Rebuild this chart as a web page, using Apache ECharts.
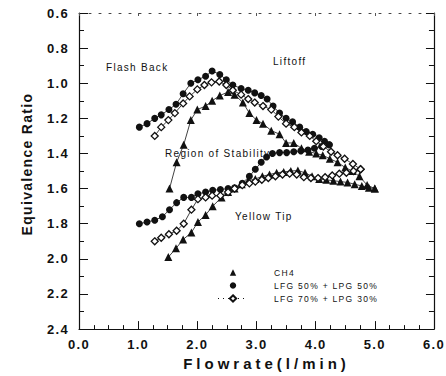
<!DOCTYPE html>
<html>
<head>
<meta charset="utf-8">
<script src="https://cdn.jsdelivr.net/npm/echarts@6/dist/echarts.min.js"></script>
<style>
html,body{margin:0;padding:0;background:#fff;}
#chart{width:446px;height:376px;}
#chart text{letter-spacing:1.3px;}
</style>
</head>
<body>
<div id="chart"></div>
<script>
// ---- data (Flowrate l/min, Equivalence Ratio) ----
const xTicks = [0, 1, 2, 3, 4, 5, 6];
const yTicks = [0.6, 0.8, 1.0, 1.2, 1.4, 1.6, 1.8, 2.0, 2.2, 2.4];
const seriesNames = ['CH4', 'LFG 50% + LPG 50%', 'LFG 70% + LPG 30%'];

const ch4Upper = [[1.53,1.60],[1.65,1.45],[1.77,1.35],[1.89,1.21],[2.00,1.15],[2.14,1.13],[2.25,1.10],[2.38,1.07],[2.52,1.05],[2.63,1.065],[2.77,1.11],[2.88,1.17],[3.00,1.21],[3.11,1.23],[3.25,1.27],[3.39,1.29],[3.50,1.34],[3.63,1.34],[3.76,1.37],[3.89,1.39],[4.01,1.40],[4.12,1.41],[4.24,1.43],[4.37,1.45],[4.50,1.48],[4.62,1.50],[4.74,1.53],[4.87,1.58],[5.00,1.60]];
const ch4Lower = [[1.51,1.99],[1.64,1.94],[1.76,1.89],[1.90,1.85],[2.01,1.79],[2.14,1.75],[2.26,1.70],[2.41,1.65],[2.52,1.62],[2.63,1.60],[2.75,1.575],[2.86,1.555],[2.98,1.545],[3.10,1.53],[3.22,1.52],[3.34,1.51],[3.46,1.505],[3.58,1.50],[3.70,1.497],[3.82,1.51],[3.94,1.53],[4.06,1.545],[4.18,1.55],[4.30,1.555],[4.42,1.56],[4.54,1.565],[4.66,1.575],[4.78,1.585],[4.90,1.595],[5.00,1.60]];

const lfg50Upper = [[1.02,1.25],[1.15,1.23],[1.28,1.20],[1.39,1.18],[1.52,1.15],[1.64,1.12],[1.76,1.06],[1.89,1.00],[2.01,0.98],[2.14,0.96],[2.25,0.93],[2.38,0.95],[2.49,0.98],[2.60,1.01],[2.74,1.03],[2.86,1.04],[2.97,1.055],[3.08,1.07],[3.18,1.09],[3.28,1.13],[3.39,1.17],[3.50,1.20],[3.61,1.22],[3.73,1.25],[3.84,1.275],[3.95,1.29],[4.06,1.31],[4.15,1.33],[4.23,1.35]];
const lfg50Lower = [[1.02,1.80],[1.15,1.79],[1.28,1.78],[1.41,1.76],[1.53,1.72],[1.65,1.68],[1.77,1.65],[1.90,1.65],[2.01,1.63],[2.14,1.62],[2.26,1.61],[2.39,1.605],[2.52,1.60],[2.63,1.595],[2.76,1.57],[2.88,1.53],[2.98,1.49],[3.08,1.45],[3.17,1.42],[3.27,1.40],[3.39,1.395],[3.51,1.395],[3.63,1.39],[3.75,1.385],[3.87,1.38],[3.98,1.37],[4.10,1.36],[4.23,1.35]];

const lfg70Upper = [[1.28,1.30],[1.39,1.25],[1.51,1.21],[1.62,1.17],[1.76,1.115],[1.87,1.075],[2.00,1.035],[2.12,1.01],[2.24,0.995],[2.37,0.99],[2.49,1.01],[2.60,1.04],[2.74,1.065],[2.86,1.09],[2.97,1.11],[3.11,1.13],[3.25,1.15],[3.37,1.19],[3.50,1.23],[3.64,1.25],[3.76,1.28],[3.90,1.30],[4.01,1.33],[4.13,1.36],[4.26,1.39],[4.37,1.41],[4.49,1.43],[4.63,1.46],[4.76,1.49]];
const lfg70Lower = [[1.28,1.90],[1.39,1.88],[1.52,1.86],[1.65,1.84],[1.77,1.80],[1.90,1.72],[2.01,1.66],[2.14,1.65],[2.25,1.64],[2.39,1.64],[2.52,1.62],[2.63,1.60],[2.76,1.58],[2.88,1.57],[2.98,1.56],[3.09,1.55],[3.20,1.54],[3.32,1.53],[3.44,1.52],[3.56,1.515],[3.68,1.52],[3.80,1.535],[3.92,1.54],[4.04,1.54],[4.16,1.535],[4.28,1.525],[4.40,1.515],[4.52,1.51],[4.64,1.50],[4.76,1.49]];

const annotations = [
  {text:'Flash Back', left:106, top:62},
  {text:'Liftoff', left:273, top:56},
  {text:'Region of Stability', left:165, top:148},
  {text:'Yellow Tip', left:235, top:211}
];

const INK = '#111';
const FONT = '"Liberation Sans", Arial, Helvetica, sans-serif';

function mkSeries(name, data, symbol, hollow) {
  return {
    type:'line', name:name, data:data, symbol:symbol, symbolSize: symbol==='triangle'?8:7,
    xAxisIndex:0, yAxisIndex:0,
    lineStyle:{color:INK, width:0.8},
    itemStyle: hollow ? {color:'#fff', borderColor:INK, borderWidth:1.3} : {color:INK, borderColor:INK, borderWidth:0},
    emphasis:{disabled:true}, silent:true
  };
}

const chart = echarts.init(document.getElementById('chart'), null, {renderer:'svg'});
chart.setOption({
  animation:false,
  backgroundColor:'#fff',
  grid:{left:79, right:12, top:13, bottom:44},
  xAxis:[
    {
      type:'value', min:0, max:6, interval:1, position:'bottom',
      axisLine:{show:true, onZero:false, lineStyle:{color:INK, width:1.2}}, splitLine:{show:false},
      axisTick:{show:true, inside:true, length:8, lineStyle:{color:INK, width:1}},
      minorTick:{show:true, splitNumber:4, length:4, lineStyle:{color:INK, width:1}},
      axisLabel:{formatter:v=>v.toFixed(1), color:INK, fontSize:13, fontWeight:'bold', fontFamily:FONT, margin:9},
      name:'Flowrate(l/min)', nameLocation:'middle', nameGap:25,
      nameTextStyle:{color:INK, fontSize:15, fontWeight:'bold', fontFamily:FONT, padding:[0,0,0,20]}
    },
    {
      type:'value', min:0, max:6, interval:1, position:'top',
      axisLine:{show:true, onZero:false, lineStyle:{color:'#444', width:1, type:[2,8]}},
      axisTick:{show:true, inside:true, length:3, lineStyle:{color:'#555'}},
      axisLabel:{show:false}, splitLine:{show:false}
    }
  ],
  yAxis:[
    {
      type:'value', min:0.6, max:2.4, interval:0.2, inverse:true, position:'left',
      axisLine:{show:true, onZero:false, lineStyle:{color:INK, width:1.2}}, splitLine:{show:false},
      axisTick:{show:true, inside:true, length:9, lineStyle:{color:INK, width:1}},
      minorTick:{show:true, splitNumber:2, length:5, lineStyle:{color:INK, width:1}},
      axisLabel:{formatter:v=>v.toFixed(1), color:INK, fontSize:13, fontWeight:'bold', fontFamily:FONT, margin:10},
      name:'Equivalence Ratio', nameLocation:'middle', nameGap:45,
      nameTextStyle:{color:INK, fontSize:14, fontWeight:'bold', fontFamily:FONT, padding:[0,0,0,14]}
    },
    {
      type:'value', min:0.6, max:2.4, interval:0.2, inverse:true, position:'right',
      axisLine:{show:true, onZero:false, lineStyle:{color:INK, width:1.2}}, splitLine:{show:false},
      axisTick:{show:true, inside:true, length:8, lineStyle:{color:INK, width:1}},
      minorTick:{show:true, splitNumber:2, length:5, lineStyle:{color:INK, width:1}},
      axisLabel:{show:false}
    }
  ],
  legend:{
    orient:'vertical', left:212, top:263, itemWidth:30, itemHeight:8, itemGap:4,
    data:[
      {name:seriesNames[0], lineStyle:{opacity:0}},
      {name:seriesNames[1], lineStyle:{opacity:0}},
      {name:seriesNames[2], lineStyle:{type:[1,4], width:1, color:INK}}
    ],
    textStyle:{color:INK, fontSize:8.5, fontFamily:FONT, padding:[0,0,0,21]},
    selectedMode:false
  },
  graphic: annotations.map(a => ({
    type:'text', left:a.left, top:a.top, silent:true,
    style:{text:a.text, fill:INK, fontSize:10, fontFamily:FONT}
  })),
  series:[
    mkSeries(seriesNames[0], ch4Upper, 'triangle', false),
    mkSeries(seriesNames[0], ch4Lower, 'triangle', false),
    mkSeries(seriesNames[1], lfg50Upper, 'circle', false),
    mkSeries(seriesNames[1], lfg50Lower, 'circle', false),
    mkSeries(seriesNames[2], lfg70Upper, 'diamond', true),
    mkSeries(seriesNames[2], lfg70Lower, 'diamond', true)
  ]
});
chart.getZr().refreshImmediately();
function spaceTitle(){
  document.querySelectorAll('#chart text').forEach(t => {
    if (t.textContent === 'Flowrate(l/min)') t.style.letterSpacing = '4px';
  });
}
spaceTitle();
chart.on('finished', spaceTitle);
</script>
</body>
</html>
